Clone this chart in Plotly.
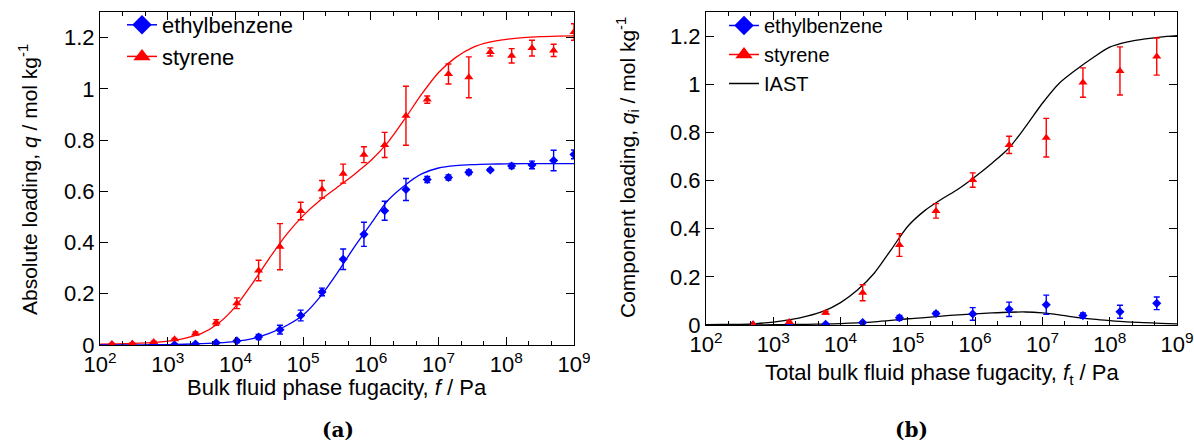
import plotly.graph_objects as go

# ---- panel (a): pure component isotherms ----
f_a = [1.5e2, 3e2, 6.2e2, 1.26e3, 2.57e3, 5.2e3, 1.05e4, 2.2e4, 4.55e4, 9.2e4, 1.9e5, 3.9e5,
       7.9e5, 1.6e6, 3.3e6, 6.8e6, 1.4e7, 2.8e7, 5.8e7, 1.2e8, 2.4e8, 5e8, 1e9]
eb_a = [0.0, 0.0, 0.0, 0.001, 0.004, 0.009, 0.016, 0.031, 0.06, 0.115, 0.207, 0.335,
        0.432, 0.524, 0.607, 0.646, 0.654, 0.674, 0.683, 0.699, 0.703, 0.72, 0.744]
eb_a_err = [0.002, 0.002, 0.002, 0.002, 0.003, 0.004, 0.006, 0.01, 0.017, 0.021, 0.015, 0.04,
            0.047, 0.037, 0.043, 0.012, 0.01, 0.009, 0.005, 0.01, 0.015, 0.04, 0.017]
st_a = [0.004, 0.006, 0.012, 0.022, 0.045, 0.088, 0.163, 0.291, 0.384, 0.523, 0.608, 0.669,
        0.743, 0.781, 0.895, 0.958, 1.058, 1.045, 1.144, 1.129, 1.159, 1.15, 1.222]
st_a_err = [0.002, 0.002, 0.003, 0.004, 0.006, 0.011, 0.021, 0.04, 0.09, 0.034, 0.034, 0.037,
            0.031, 0.049, 0.115, 0.014, 0.039, 0.08, 0.016, 0.028, 0.031, 0.024, 0.032]

# fitted isotherm curves, read on a quarter-decade grid
curve_f = [1e2, 1.78e2, 3.16e2, 5.62e2, 1e3, 1.78e3, 3.16e3, 5.62e3, 1e4, 1.78e4, 3.16e4, 5.62e4,
           1e5, 1.78e5, 3.16e5, 5.62e5, 1e6, 1.78e6, 3.16e6, 5.62e6, 1e7, 1.78e7, 3.16e7, 5.62e7,
           1e8, 1.78e8, 3.16e8, 5.62e8, 1e9]
eb_fit = [0.0, 0.0003, 0.0005, 0.001, 0.0015, 0.003, 0.005, 0.008, 0.014, 0.025, 0.045, 0.075,
          0.117, 0.188, 0.28, 0.38, 0.473, 0.564, 0.623, 0.668, 0.691, 0.700, 0.704, 0.706,
          0.707, 0.708, 0.708, 0.708, 0.708]
st_fit = [0.003, 0.004, 0.006, 0.009, 0.015, 0.026, 0.045, 0.085, 0.150, 0.24, 0.338, 0.43,
          0.505, 0.565, 0.615, 0.665, 0.72, 0.791, 0.882, 0.979, 1.064, 1.122, 1.161, 1.182,
          1.193, 1.200, 1.204, 1.206, 1.207]

# ---- panel (b): equimolar mixture ----
f_b = [5e2, 1.73e3, 6e3, 2.13e4, 7.5e4, 2.62e5, 9.2e5, 3.2e6, 1.14e7, 4e7, 1.42e8, 5e8]
eb_b = [0.0, 0.0, 0.003, 0.01, 0.03, 0.048, 0.046, 0.065, 0.084, 0.039, 0.055, 0.09]
eb_b_err = [0.002, 0.002, 0.003, 0.004, 0.01, 0.006, 0.026, 0.03, 0.04, 0.011, 0.027, 0.026]
st_b = [0.003, 0.012, 0.051, 0.134, 0.332, 0.474, 0.602, 0.748, 0.778, 1.007, 1.055, 1.115]
st_b_err = [0.002, 0.004, 0.006, 0.033, 0.047, 0.03, 0.03, 0.036, 0.08, 0.061, 0.1, 0.077]

iast_eb = [0.0, 0.0003, 0.0005, 0.0008, 0.001, 0.002, 0.003, 0.004, 0.006, 0.009, 0.013, 0.019,
           0.026, 0.031, 0.037, 0.042, 0.046, 0.05, 0.053, 0.054, 0.05, 0.042, 0.032, 0.024,
           0.018, 0.013, 0.01, 0.007, 0.005]
iast_st = [0.001, 0.002, 0.003, 0.006, 0.012, 0.022, 0.037, 0.058, 0.093, 0.145, 0.215, 0.312,
           0.41, 0.475, 0.522, 0.565, 0.616, 0.672, 0.734, 0.824, 0.921, 1.004, 1.06, 1.11,
           1.154, 1.175, 1.187, 1.196, 1.202]

decades = [1e2, 1e3, 1e4, 1e5, 1e6, 1e7, 1e8, 1e9]
decade_text = ["10<sup>%d</sup>" % n for n in range(2, 10)]

BLUE = "#0000ff"
RED = "#ff0000"
FONT = "Liberation Sans"

# body margin is removed in the page (post_script), so figure pixels = page pixels
W, H = 1194, 444


def px(x):
    return x / W


def py(y):
    return 1 - y / H


fig = go.Figure()


def add_points(x, y, err, color, symbol, size, xa, ya):
    fig.add_trace(go.Scatter(x=x, y=y, mode="markers", showlegend=False, xaxis=xa, yaxis=ya,
                             marker=dict(color=color, symbol=symbol, size=size),
                             error_y=dict(type="data", array=err, color=color, thickness=1.4, width=3)))


def add_curve(y, color, xa, ya):
    fig.add_trace(go.Scatter(x=curve_f, y=y, mode="lines", showlegend=False, xaxis=xa, yaxis=ya,
                             line=dict(color=color, width=1.3, shape="spline", smoothing=0.8)))


def add_key(name, color, symbol, legend, mode="lines+markers"):
    fig.add_trace(go.Scatter(x=[None], y=[None], mode=mode, name=name, legend=legend,
                             marker=dict(color=color, symbol=symbol, size=15),
                             line=dict(color=color, width=1.5)))


# panel (a)
add_curve(st_fit, RED, "x", "y")
add_curve(eb_fit, BLUE, "x", "y")
add_points(f_a, eb_a, eb_a_err, BLUE, "diamond", 7, "x", "y")
add_points(f_a, st_a, st_a_err, RED, "triangle-up", 8, "x", "y")
add_key("ethylbenzene", BLUE, "diamond", "legend")
add_key("styrene", RED, "triangle-up", "legend")

# panel (b)
add_curve(iast_st, "black", "x2", "y2")
add_curve(iast_eb, "black", "x2", "y2")
add_points(f_b, eb_b, eb_b_err, BLUE, "diamond", 7, "x2", "y2")
add_points(f_b, st_b, st_b_err, RED, "triangle-up", 8, "x2", "y2")
add_key("ethylbenzene", BLUE, "diamond", "legend2")
add_key("styrene", RED, "triangle-up", "legend2")
add_key("IAST", "black", "line-ew", "legend2", mode="lines")

minor_vals = [10 ** (2 + k / 3) for k in range(22)]

xcommon = dict(type="log", range=[2, 9], showgrid=False, zeroline=False, showline=True,
               linecolor="black", linewidth=1, mirror="allticks", ticks="inside", ticklen=8,
               tickcolor="black", tickvals=decades, ticktext=decade_text, automargin=False,
               ticklabeloverflow="allow",
               minor=dict(tickvals=minor_vals, ticks="inside", ticklen=4, tickcolor="black"),
               tickfont=dict(family=FONT, size=22, color="black"))
ycommon = dict(range=[0, 1.3], tick0=0, dtick=0.2, showgrid=False, zeroline=False, showline=True,
               linecolor="black", linewidth=1, mirror="allticks", ticks="inside", ticklen=8,
               tickcolor="black", automargin=False,
               tickfont=dict(family=FONT, size=22, color="black"))

fig.update_layout(
    width=W, height=H, margin=dict(l=0, r=0, t=0, b=0, autoexpand=False),
    plot_bgcolor="white", paper_bgcolor="white",
    font=dict(family=FONT, color="black"),
    xaxis=dict(xcommon, domain=[px(100), px(574)], anchor="y"),
    yaxis=dict(ycommon, domain=[py(345), py(12)], anchor="x"),
    xaxis2=dict(xcommon, domain=[px(706), px(1177)], anchor="y2"),
    yaxis2=dict(ycommon, domain=[py(325), py(12)], anchor="x2"),
    legend=dict(x=px(122), y=py(4), xanchor="left", yanchor="top", bgcolor="rgba(0,0,0,0)",
                font=dict(family=FONT, size=22), tracegroupgap=0),
    legend2=dict(x=px(724), y=py(6), xanchor="left", yanchor="top", bgcolor="rgba(0,0,0,0)",
                 font=dict(family=FONT, size=20), tracegroupgap=0),
)


def label(text, x, y, size, angle=0, family=FONT):
    fig.add_annotation(text=text, textangle=angle, x=px(x), y=py(y), xanchor="center",
                       yanchor="middle", xref="paper", yref="paper", showarrow=False,
                       font=dict(family=family, size=size, color="black"))


label("Absolute loading, <i>q</i> / mol kg<sup>-1</sup>", 28, 180, 21, angle=-90)
label("Bulk fluid phase fugacity, <i>f</i> / Pa", 337, 387, 22)
label("Component loading, <i>q</i><sub>i</sub> / mol kg<sup>-1</sup>", 627, 168, 21, angle=-90)
label("Total bulk fluid phase fugacity, <i>f</i><sub>t</sub> / Pa", 942, 374, 22)
label("<b>(a)</b>", 338, 430, 20, family="DejaVu Serif")
label("<b>(b)</b>", 911, 430, 20, family="DejaVu Serif")

fig.write_html("out.html", config={"displayModeBar": False},
               post_script="document.body.style.margin='0';document.body.style.overflow='hidden';")
